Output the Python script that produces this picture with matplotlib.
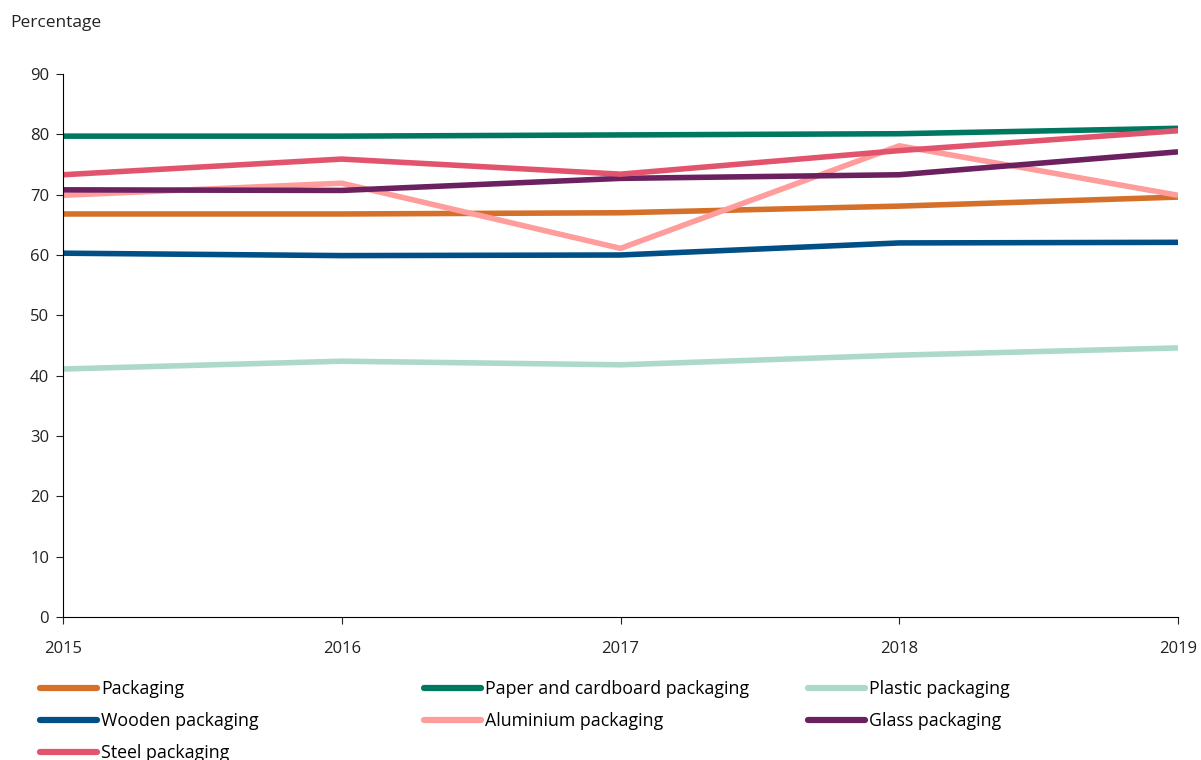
import matplotlib.pyplot as plt
from matplotlib.lines import Line2D

plt.rcParams['font.family'] = ['Open Sans', 'DejaVu Sans']

years = [2015, 2016, 2017, 2018, 2019]

packaging = [66.8, 66.8, 67.0, 68.1, 69.6]
paper = [79.7, 79.7, 79.9, 80.1, 81.0]
plastic = [41.1, 42.4, 41.8, 43.4, 44.6]
wooden = [60.3, 59.9, 60.0, 62.0, 62.1]
aluminium = [69.9, 71.9, 61.1, 78.1, 69.9]
glass = [70.8, 70.7, 72.7, 73.3, 77.1]
steel = [73.3, 75.9, 73.4, 77.3, 80.6]

series = [
    ('Packaging', packaging, '#d4702a'),
    ('Paper and cardboard packaging', paper, '#00785f'),
    ('Plastic packaging', plastic, '#acd9c8'),
    ('Wooden packaging', wooden, '#004f86'),
    ('Aluminium packaging', aluminium, '#ff9d9d'),
    ('Glass packaging', glass, '#6b2160'),
    ('Steel packaging', steel, '#e2546e'),
]

fig = plt.figure(figsize=(12.01, 7.6), dpi=100)
ax = fig.add_axes([63/1201, 1 - 617/760, (1178 - 63)/1201, (617 - 74)/760])

handles = {}
for name, vals, col in series:
    ln, = ax.plot(years, vals, color=col, lw=4, solid_capstyle='butt')
    handles[name] = ln

ax.set_xlim(2015, 2019)
ax.set_ylim(0, 90)
ax.set_xticks(years)
ax.set_yticks(range(0, 91, 10))
ax.spines['top'].set_visible(False)
ax.spines['right'].set_visible(False)
ax.tick_params(axis='both', labelsize=12, length=5, width=0.8, colors='#222222')
ax.tick_params(axis='x', pad=12)
ax.tick_params(axis='y', pad=5)

fig.text(10/1201, 1 - 23/760, 'Percentage', fontsize=12.5, va='center', color='#222222')

# legend: three columns laid out in rows
cols = [
    ['Packaging', 'Wooden packaging', 'Steel packaging'],
    ['Paper and cardboard packaging', 'Aluminium packaging'],
    ['Plastic packaging', 'Glass packaging'],
]
xs = [40/1201, 424/1201, 808/1201]
for x, names in zip(xs, cols):
    hs = [Line2D([], [], color=handles[n].get_color(), lw=4.5, solid_capstyle='round') for n in names]
    fig.legend(hs, names, loc='upper left', bbox_to_anchor=(x, 1 - 680/760),
               frameon=False, fontsize=12.8, handlelength=3.2, handletextpad=0.25,
               labelspacing=0.8, borderaxespad=0, borderpad=0)

fig.savefig('out.png', dpi=100)
